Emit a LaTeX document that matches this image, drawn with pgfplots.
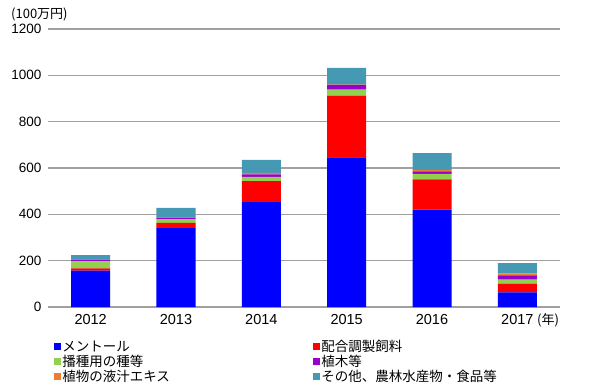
\documentclass[border=0pt]{standalone}
\usepackage{pgfplots}
\pgfplotsset{compat=1.18}
\usepackage{fontspec}
\setmainfont{Liberation Sans}
\newfontfamily\jp{Noto Sans CJK JP}
\definecolor{cMen}{HTML}{0000FF}
\definecolor{cFeed}{HTML}{FF0000}
\definecolor{cSeed}{HTML}{92D050}
\definecolor{cTree}{HTML}{9900CC}
\definecolor{cExt}{HTML}{ED7D31}
\definecolor{cOth}{HTML}{4599B2}
\definecolor{cGrid}{HTML}{A0A0A0}
\begin{document}
\begin{tikzpicture}
\useasboundingbox (-48pt,-82pt) rectangle (547pt,307pt);
\begin{axis}[
  scale only axis,
  width=512pt, height=278pt,
  clip=false,
  ybar stacked, bar width=39pt,
  xmin=-0.5, xmax=5.5,
  ymin=0, ymax=1200,
  ytick={0,200,...,1200},
  xtick={0,1,2,3,4,5},
  xticklabels={2012,2013,2014,2015,2016,2017},
  ymajorgrids,
  grid style={cGrid, line width=1.1pt},
  axis line style={draw=none},
  tick style={draw=none},
  /pgf/number format/assume math mode=true,
  /pgf/number format/1000 sep={},
  yticklabel style={font=\fontsize{13.5}{15}\selectfont, xshift=-3pt},
  xticklabel style={font=\fontsize{14.5}{16}\selectfont, yshift=-4pt},
  legend columns=2,
  legend cell align=left,
  legend style={at={(rel axis cs:0,0)}, anchor=north west, xshift=6pt, yshift=-32pt,
    draw=none, fill=none, inner sep=0pt, row sep=0pt,
    font=\jp\fontsize{13.5}{15}\selectfont, nodes={inner sep=1.1pt}},
]
\addplot[fill=cMen, draw=none, legend image code/.code={\fill[cMen] (0pt,-3.5pt) rectangle (7pt,3.5pt);}]
  coordinates {(0,157) (1,341) (2,453) (3,646) (4,420) (5,63)};
\addplot[fill=cFeed, draw=none, legend image code/.code={\fill[cFeed] (0pt,-3.5pt) rectangle (7pt,3.5pt);}]
  coordinates {(0,10) (1,22) (2,90) (3,266) (4,131) (5,38)};
\addplot[fill=cSeed, draw=none, legend image code/.code={\fill[cSeed] (0pt,-3.5pt) rectangle (7pt,3.5pt);}]
  coordinates {(0,31) (1,16) (2,19) (3,26) (4,24) (5,17)};
\addplot[fill=cTree, draw=none, legend image code/.code={\fill[cTree] (0pt,-3.5pt) rectangle (7pt,3.5pt);}]
  coordinates {(0,7) (1,7) (2,11) (3,21) (4,10) (5,18)};
\addplot[fill=cExt, draw=none, legend image code/.code={\fill[cExt] (0pt,-3.5pt) rectangle (7pt,3.5pt);}]
  coordinates {(0,2) (1,1) (2,6) (3,1) (4,6) (5,9)};
\addplot[fill=cOth, draw=none, legend image code/.code={\fill[cOth] (0pt,-3.5pt) rectangle (7pt,3.5pt);}]
  coordinates {(0,17) (1,41) (2,56) (3,72) (4,73) (5,44)};
\addlegendentry{\makebox[250pt][l]{メントール}}
\addlegendentry{配合調製飼料}
\addlegendentry{\makebox[250pt][l]{播種用の種等}}
\addlegendentry{植木等}
\addlegendentry{\makebox[250pt][l]{植物の液汁エキス}}
\addlegendentry{その他、農林水産物・食品等}
\node[anchor=west, font=\jp\fontsize{13}{15}\selectfont, inner sep=0pt] at (rel axis cs:0,1) [xshift=-37pt, yshift=15pt] {(100万円)};
\node[anchor=west, font=\jp\fontsize{13}{15}\selectfont, inner sep=0pt] at (rel axis cs:0.955,0) [yshift=-13pt] {(年)};
\end{axis}
\end{tikzpicture}
\end{document}
